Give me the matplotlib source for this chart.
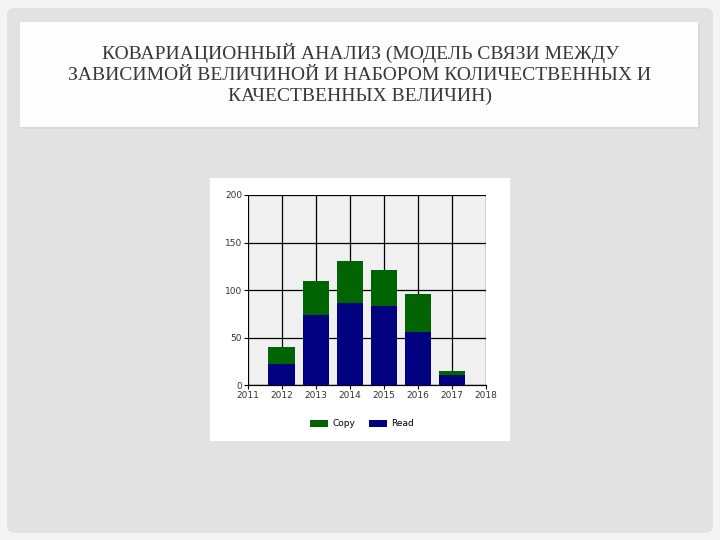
import matplotlib.pyplot as plt
from matplotlib.patches import FancyBboxPatch, Rectangle

years = [2012, 2013, 2014, 2015, 2016, 2017]
read = [22, 74, 86, 83, 56, 11]
copy = [18, 36, 45, 38, 40, 4]
series_names = ["Copy", "Read"]

title = ("КОВАРИАЦИОННЫЙ АНАЛИЗ (МОДЕЛЬ СВЯЗИ МЕЖДУ\n"
         "ЗАВИСИМОЙ ВЕЛИЧИНОЙ И НАБОРОМ КОЛИЧЕСТВЕННЫХ И\n"
         "КАЧЕСТВЕННЫХ ВЕЛИЧИН)")

W, H = 720, 540
fig = plt.figure(figsize=(7.2, 5.4), dpi=100, facecolor="#f4f4f4")

def box(x0, y0, x1, y1, color, rounded=False):
    # pixel coords from top-left
    if rounded:
        p = FancyBboxPatch((x0 / W, 1 - y1 / H), (x1 - x0) / W, (y1 - y0) / H,
                           boxstyle="round,pad=0,rounding_size=0.012",
                           transform=fig.transFigure, facecolor=color,
                           edgecolor="none", zorder=0)
    else:
        p = Rectangle((x0 / W, 1 - y1 / H), (x1 - x0) / W, (y1 - y0) / H,
                      transform=fig.transFigure, facecolor=color,
                      edgecolor="none", zorder=0)
    fig.patches.append(p)

# slide background
box(7, 8, 713, 533, "#e2e2e2", rounded=True)
# title box
box(21, 24, 700, 129, "#d8d8d8")
box(20, 22, 698, 127, "#fdfdfd")
# chart image
box(210, 178, 510, 441, "#ffffff")

fig.text(360 / W, 1 - 74 / H, title, ha="center", va="center",
         family="Liberation Serif", fontsize=14, color="#383838",
         linespacing=1.32)

ax = fig.add_axes([247.7 / W, 1 - 385.3 / H, (486 - 247.7) / W, 190.3 / H])
ax.set_zorder(2)
ax.set_facecolor("#f0f0f0")

b1 = ax.bar(years, read, width=0.78, color="#000080", zorder=3)
b2 = ax.bar(years, copy, width=0.78, bottom=read, color="#006400", zorder=3)

ax.set_xlim(2011, 2018)
ax.set_ylim(0, 200)
ax.set_xticks(range(2011, 2019))
ax.set_yticks([0, 50, 100, 150, 200])
ax.grid(True, color="black", linewidth=0.9, zorder=1)
ax.set_axisbelow(True)
for s in ["top", "right", "left"]:
    ax.spines[s].set_visible(False)
ax.spines["bottom"].set_color("black")
ax.spines["bottom"].set_linewidth(0.9)
ax.tick_params(axis="both", labelsize=6.5, colors="black", labelcolor="#333333",
               length=3, width=0.8, pad=1)

leg = fig.legend([b2, b1], series_names, loc="center", ncol=2,
                 bbox_to_anchor=(362 / W, 1 - 424 / H), frameon=False,
                 fontsize=6.5, handlelength=2.0, handleheight=0.9,
                 columnspacing=1.5, handletextpad=0.5)
leg.set_zorder(3)

fig.savefig("out.png", dpi=100, facecolor=fig.get_facecolor())
